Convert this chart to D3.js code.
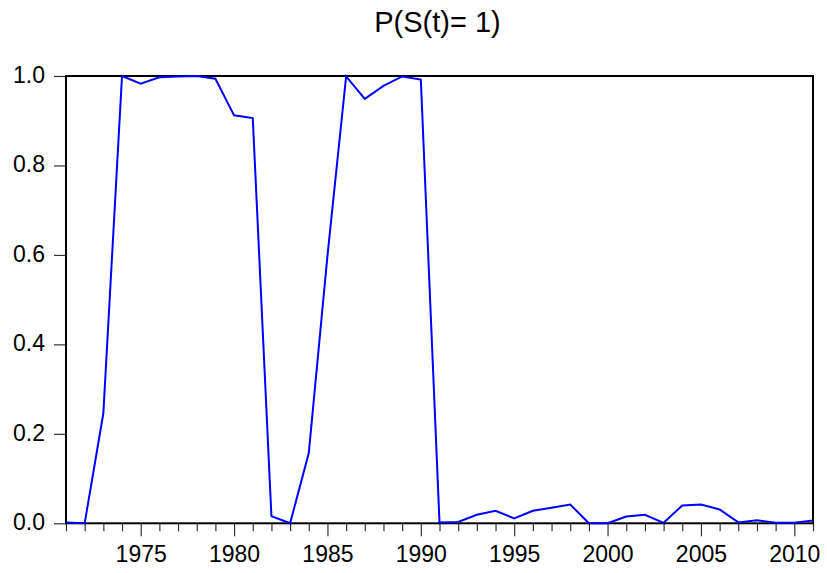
<!DOCTYPE html>
<html>
<head>
<meta charset="utf-8">
<script src="https://cdn.jsdelivr.net/npm/d3@7"></script>
<style>
  body { margin: 0; background: #fff; }
  text { font-family: "Liberation Sans", Arial, sans-serif; fill: #000; }
</style>
</head>
<body>
<div id="chart"></div>
<script>
// years and smoothed probabilities of regime 1
var years = [1971, 1972, 1973, 1974, 1975, 1976, 1977, 1978, 1979, 1980,
             1981, 1982, 1983, 1984, 1985, 1986, 1987, 1988, 1989, 1990,
             1991, 1992, 1993, 1994, 1995, 1996, 1997, 1998, 1999, 2000,
             2001, 2002, 2003, 2004, 2005, 2006, 2007, 2008, 2009, 2010, 2011];
var probs = [0.002, 0.000, 0.246, 1.000, 0.983, 0.997, 0.999, 1.000, 0.994, 0.912,
             0.906, 0.016, 0.000, 0.157, 0.598, 0.999, 0.949, 0.978, 0.999, 0.992,
             0.002, 0.003, 0.019, 0.028, 0.011, 0.028, 0.035, 0.042, 0.000, 0.000,
             0.015, 0.019, 0.001, 0.040, 0.042, 0.031, 0.002, 0.007, 0.001, 0.001, 0.006];
var yTicks = [0, 0.2, 0.4, 0.6, 0.8, 1.0];
var xLabelYears = [1975, 1980, 1985, 1990, 1995, 2000, 2005, 2010];
var title = "P(S(t)= 1)";

// note: "top" is taken by window.top, so plot edges get their own names
var width = 827,
    height = 573,
    plotLeft = 66, plotRight = 813, plotTop = 76, plotBottom = 523.3;

var svg = d3.select("#chart")
  .append("svg")
    .attr("width", width)
    .attr("height", height);

var x = d3.scaleLinear().domain([years[0], years[years.length - 1]]).range([plotLeft, plotRight]);
var y = d3.scaleLinear().domain([0, 1]).range([plotBottom, plotTop]);

// x axis: a tick each year, longer and labelled every 5 years
var xAxis = svg.append("g")
  .attr("transform", "translate(0," + plotBottom + ")")
  .call(d3.axisBottom(x).tickValues(years).tickSizeOuter(0).tickFormat(function(d){
    return xLabelYears.indexOf(d) >= 0 ? d : "";
  }));
xAxis.select(".domain").remove();
xAxis.selectAll(".tick line")
  .attr("stroke", "#333")
  .attr("stroke-width", 1.2)
  .attr("y2", function(d){ return xLabelYears.indexOf(d) >= 0 ? 13 : 8; });
xAxis.selectAll(".tick text")
  .attr("y", 38.5)
  .attr("dy", 0)
  .style("font-size", "23px")
  .style("font-family", "'Liberation Sans', Arial, sans-serif")
  .attr("fill", "#000");

var yAxis = svg.append("g")
  .attr("transform", "translate(" + plotLeft + ",0)")
  .call(d3.axisLeft(y).tickValues(yTicks).tickSize(12).tickPadding(9).tickFormat(d3.format(".1f")));
yAxis.select(".domain").remove();
yAxis.selectAll(".tick line")
  .attr("stroke", "#333")
  .attr("stroke-width", 1.2);
yAxis.selectAll(".tick text")
  .attr("dy", "0.28em")
  .style("font-size", "23px")
  .style("font-family", "'Liberation Sans', Arial, sans-serif")
  .attr("fill", "#000");

// frame round the plot
svg.append("rect")
  .attr("x", plotLeft)
  .attr("y", plotTop)
  .attr("width", plotRight - plotLeft)
  .attr("height", plotBottom - plotTop)
  .attr("fill", "none")
  .attr("stroke", "#000")
  .attr("stroke-width", 2);

var line = d3.line()
  .x(function(d, i){ return x(years[i]); })
  .y(function(d){ return y(d); });

svg.append("path")
  .datum(probs)
  .attr("d", line)
  .attr("fill", "none")
  .attr("stroke", "#0000ff")
  .attr("stroke-width", 2)
  .attr("stroke-linejoin", "miter");

svg.append("text")
  .attr("x", (plotLeft + plotRight) / 2 - 2)
  .attr("y", 32)
  .attr("text-anchor", "middle")
  .style("font-size", "29px")
  .text(title);
</script>
</body>
</html>
